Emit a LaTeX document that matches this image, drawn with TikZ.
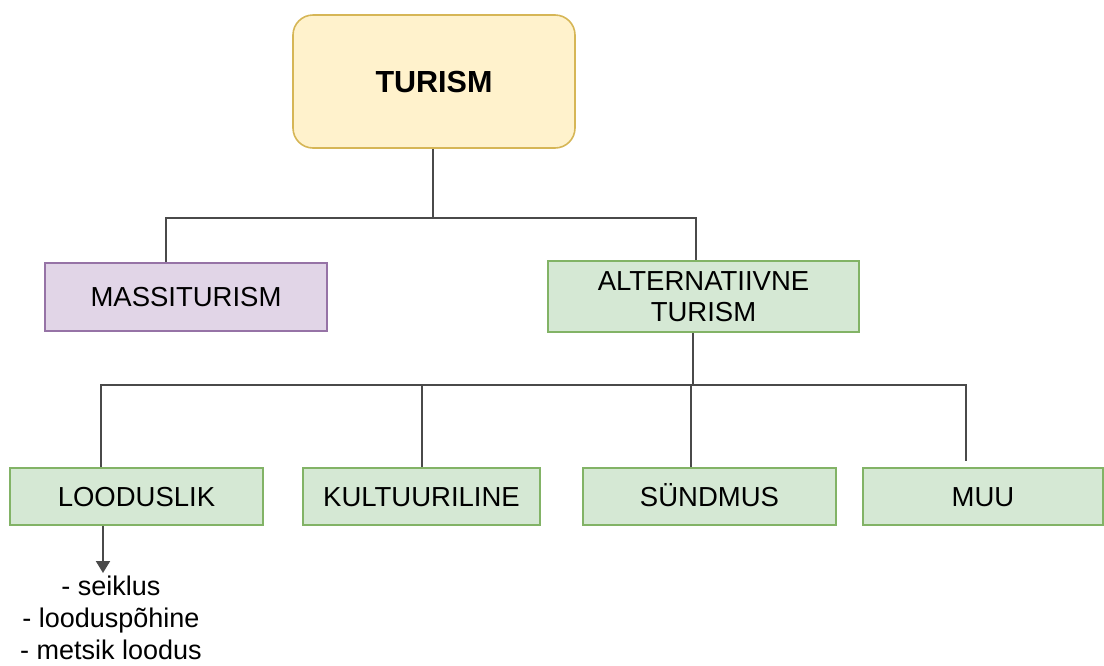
\documentclass[tikz,border=0pt]{standalone}
\usepackage{fontspec}
\setmainfont{Liberation Sans}
\usetikzlibrary{arrows.meta}
\definecolor{yelfill}{HTML}{FFF2CC}
\definecolor{yelline}{HTML}{D6B656}
\definecolor{purfill}{HTML}{E1D5E7}
\definecolor{purline}{HTML}{9673A6}
\definecolor{grnfill}{HTML}{D5E8D4}
\definecolor{grnline}{HTML}{82B366}
\definecolor{connclr}{HTML}{4A4A4A}
\begin{document}
\begin{tikzpicture}[x=1pt,y=-1pt,
  every node/.style={font=\fontsize{27.5}{30}\selectfont, inner sep=0pt},
  box/.style={draw, line width=1.6pt, align=center},
  oneline/.style={text height=19.7pt, text depth=0pt},
  rootbox/.style={box, oneline, fill=yelfill, draw=yelline, rounded corners=20pt,
    font=\fontsize{30.5}{32}\selectfont\bfseries, text height=22pt},
  massbox/.style={box, fill=purfill, draw=purline},
  altbox/.style={box, fill=grnfill, draw=grnline},
  conn/.style={draw=connclr, line width=2pt}]
\useasboundingbox (0,0) rectangle (1104,665);

% boxes
\node[rootbox, minimum width=282pt, minimum height=133pt] (turism) at (434,81.5) {TURISM};
\node[massbox, oneline, minimum width=282pt, minimum height=68pt] (mass) at (186,297) {MASSITURISM};
\node[altbox, minimum width=311pt, minimum height=71pt] (alt) at (703.5,296.5) {ALTERNATIIVNE\\[1pt]TURISM};
\node[altbox, oneline, minimum width=253pt, minimum height=57pt] (lood) at (136.5,496.5) {LOODUSLIK};
\node[altbox, oneline, minimum width=237pt, minimum height=57pt] (kult) at (421.5,496.5) {KULTUURILINE};
\node[altbox, oneline, minimum width=253pt, minimum height=57pt] (sund) at (709.5,496.5) {SÜNDMUS};
\node[altbox, oneline, minimum width=240pt, minimum height=57pt] (muu) at (983,496.5) {MUU};

% list under LOODUSLIK
\node[anchor=north, align=center, font=\fontsize{27}{32}\selectfont] (list) at (111,576)
  {- seiklus\\- looduspõhine\\- metsik loodus};

% first level tree
\coordinate (top) at (433,218);
\draw[conn] (turism.south -| top) -- (top);
\draw[conn] (top) -| ([xshift=-20pt]mass.north);
\draw[conn] (top) -| ([xshift=-8pt]alt.north);

% second level tree
\coordinate (mid) at (693,385);
\draw[conn] (alt.south -| mid) -- (mid);
\draw[conn] (mid) -| ([xshift=-35.5pt]lood.north);
\draw[conn] (mid) -| (kult.north);
\draw[conn] (mid) -| ([xshift=-18.5pt]sund.north);
\draw[conn] (mid) -| ([xshift=-17pt,yshift=6pt]muu.north);

% arrow to the list
\draw[conn, -{Triangle[length=12pt,width=14pt]}, shorten >=3pt]
  ([xshift=-33.5pt]lood.south) -- ([xshift=-33.5pt]lood.south |- list.north);
\end{tikzpicture}
\end{document}
